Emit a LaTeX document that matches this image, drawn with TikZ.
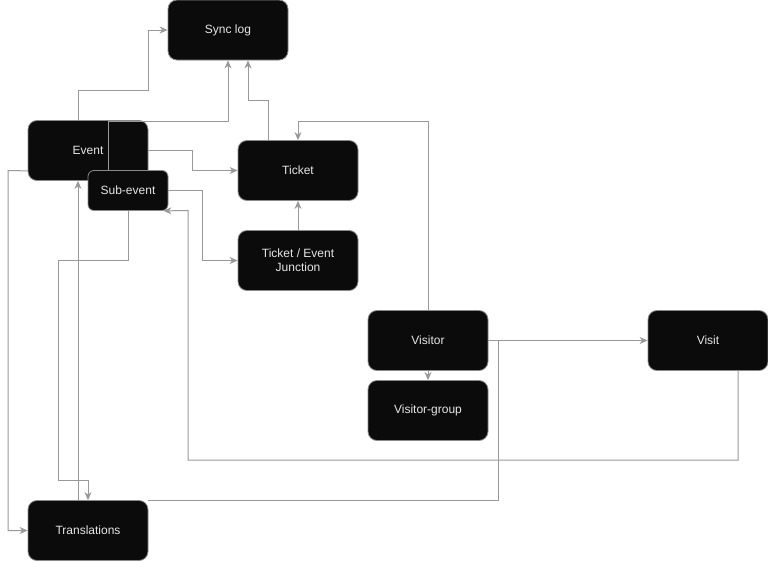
\documentclass[tikz,border=0pt]{standalone}
\usepackage{fontspec}
\setmainfont{Liberation Sans}
\usetikzlibrary{arrows.meta}
\definecolor{boxfill}{HTML}{0B0B0B}
\definecolor{boxline}{HTML}{8A8A8A}
\definecolor{boxtext}{HTML}{E6E6E6}
\definecolor{conncol}{HTML}{999999}
\tikzset{
  entity/.style={draw=boxline, line width=0.8pt, fill=boxfill, text=boxtext,
    rounded corners=9pt, minimum width=120pt, minimum height=60pt, inner sep=0pt,
    align=center, font=\fontsize{12}{14}\selectfont},
  smallentity/.style={entity, rounded corners=6pt, minimum width=80pt, minimum height=40pt},
  conn/.style={draw=conncol, line width=1pt, -{Stealth[length=8pt,width=7pt,inset=2.5pt]}},
  plainconn/.style={draw=conncol, line width=1pt}
}
\begin{document}
\begin{tikzpicture}[x=1pt,y=-1pt]
\useasboundingbox (0,0) rectangle (768,562);
% nodes
\node[entity] (sync) at (228,30) {Sync log};
\node[entity] (ev) at (88,150.5) {Event};
\node[entity] (tk) at (298,170.5) {Ticket};
\node[entity] (jn) at (298,260.5) {Ticket / Event\\Junction};
\node[entity] (vr) at (428,340.5) {Visitor};
\node[entity] (vg) at (428,410.5) {Visitor-group};
\node[entity] (vt) at (708,340.5) {Visit};
\node[entity] (tr) at (88,530.5) {Translations};
\node[smallentity] (sub) at (128,190.5) {Sub-event};
% connectors
\draw[conn] ([xshift=-10pt]ev.north) |- (148,90) |- (sync.west);
\draw[conn] ([xshift=-20pt]sub.north) -- (108,121) -| (sync.south);
\draw[conn] ([xshift=-30pt]tk.north) -- (268,100) -| ([xshift=20pt]sync.south);
\draw[conn] (ev.east) -- (192,150.5) |- (tk.west);
\draw[conn] (sub.east) -- (202,190.5) |- (jn.west);
\draw[conn] (jn.north) -- (tk.south);
\draw[conn] (vr.north) -- (428,121) -| (tk.north);
\draw[conn] (vr.south) -- (vg.north);
\draw[conn] (vr.east) -- (vt.west);
\draw[conn] ([xshift=30pt]vt.south) -- (738,460) -| (188,210.5) -- ([xshift=-5pt]sub.south east);
\draw[conn] ([yshift=10pt]ev.south west) -- (8,170.5) |- (tr.west);
\draw[conn] ([xshift=-10pt]tr.north) -- ([xshift=-10pt]ev.south);
\draw[conn] (sub.south) -- (128,260) -| (58,480) -| (tr.north);
\draw[plainconn] (vr.east) -- (498,340.5) |- (tr.north east);
\end{tikzpicture}
\end{document}
